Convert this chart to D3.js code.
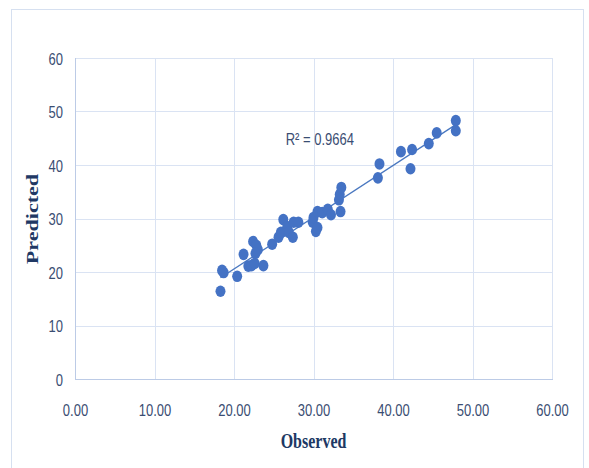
<!DOCTYPE html>
<html>
<head>
<meta charset="utf-8">
<script src="https://cdn.jsdelivr.net/npm/d3@7"></script>
<style>
  html, body { margin: 0; padding: 0; background: #fff; }
  svg { display: block; }
</style>
</head>
<body>
<svg id="chart" width="589" height="468"></svg>
<script>
const observed = [18.3, 18.7, 18.5, 20.4, 21.2, 21.8, 22.2, 22.6, 23.7, 22.4, 22.8, 23.0, 22.7,
  24.8, 25.6, 25.9, 26.2, 26.7, 26.9, 27.4, 27.5, 28.1, 29.9, 30.3, 30.5, 30.0, 30.5, 31.1,
  31.8, 32.2, 33.4, 33.2, 33.3, 33.5, 38.1, 38.3, 41.0, 42.4, 42.2, 44.5, 45.5, 47.9, 47.9];
const predicted = [16.4, 19.9, 20.3, 19.2, 23.3, 21.1, 21.2, 21.6, 21.2, 25.7, 25.0, 24.2, 23.5,
  25.2, 26.5, 27.4, 29.8, 28.5, 27.4, 26.5, 29.3, 29.3, 29.3, 27.6, 28.3, 30.2, 31.3, 31.1,
  31.7, 30.7, 31.3, 33.5, 34.5, 35.8, 37.6, 40.2, 42.5, 42.9, 39.3, 44.0, 46.0, 48.3, 46.4];
const xTicks = [0, 10, 20, 30, 40, 50, 60];
const yTicks = [0, 10, 20, 30, 40, 50, 60];
const xTitle = "Observed";
const yTitle = "Predicted";
const r2Label = "R² = 0.9664";

(function () {
const svg = d3.select("#chart");
const pL = 75, pR = 552, pT = 58, pB = 379;
const SY = 1.3; // vertical text stretch

const x = d3.scaleLinear().domain([0, 60]).range([pL, pR]);
const y = d3.scaleLinear().domain([0, 60]).range([pB, pT]);

// outer chart frame
svg.append("rect").attr("x", 11.5).attr("y", 9.5).attr("width", 572).attr("height", 470)
  .attr("fill", "#fff").attr("stroke", "#d6e0f0").attr("stroke-width", 1);

// gridlines
svg.append("g").selectAll("line").data(xTicks).join("line")
  .attr("x1", d => Math.round(x(d)) + 0.5).attr("x2", d => Math.round(x(d)) + 0.5)
  .attr("y1", pT).attr("y2", pB)
  .attr("stroke", "#dae3f3").attr("stroke-width", 1);
svg.append("g").selectAll("line").data(yTicks).join("line")
  .attr("y1", d => Math.round(y(d)) + 0.5).attr("y2", d => Math.round(y(d)) + 0.5)
  .attr("x1", pL).attr("x2", pR)
  .attr("stroke", "#dae3f3").attr("stroke-width", 1);

// axis lines
svg.append("line").attr("x1", Math.round(x(0)) + 0.5).attr("x2", Math.round(x(0)) + 0.5)
  .attr("y1", pT).attr("y2", pB + 1).attr("stroke", "#bccbe6");
svg.append("line").attr("x1", pL).attr("x2", pR + 1)
  .attr("y1", Math.round(y(0)) + 0.5).attr("y2", Math.round(y(0)) + 0.5).attr("stroke", "#bccbe6");

const tickFont = "'Liberation Sans Narrow', 'Liberation Sans', Arial, sans-serif";
const tickColor = "#3a4d72";

// x tick labels
const xAxis = d3.axisBottom(x).tickValues(xTicks).tickFormat(d3.format(".2f")).tickSize(0).tickPadding(0);
const gx = svg.append("g").attr("transform", `translate(0,${pB})`).call(xAxis);
gx.select(".domain").remove();
gx.selectAll("text").attr("y", 37 / SY).attr("dy", null)
  .attr("transform", `scale(1,${SY})`)
  .attr("font-family", tickFont).attr("font-size", 13).attr("fill", tickColor);

// y tick labels
const yAxis = d3.axisLeft(y).tickValues(yTicks).tickFormat(d3.format("d")).tickSize(0).tickPadding(0);
const gy = svg.append("g").attr("transform", `translate(${pL},0)`).call(yAxis);
gy.select(".domain").remove();
gy.selectAll("text").attr("x", -12).attr("dy", "0.36em")
  .attr("transform", `scale(1,${SY})`)
  .attr("font-family", tickFont).attr("font-size", 13).attr("fill", tickColor);

// trendline (least squares)
const n = observed.length;
const mx = d3.mean(observed), my = d3.mean(predicted);
let sxy = 0, sxx = 0;
for (let i = 0; i < n; i++) { sxy += (observed[i] - mx) * (predicted[i] - my); sxx += (observed[i] - mx) ** 2; }
const slope = sxy / sxx, intercept = my - slope * mx;
const [x0, x1] = d3.extent(observed);
svg.append("line")
  .attr("x1", x(x0)).attr("y1", y(intercept + slope * x0))
  .attr("x2", x(x1)).attr("y2", y(intercept + slope * x1))
  .attr("stroke", "#4a78c0").attr("stroke-width", 1.3);

// points
svg.append("g").selectAll("ellipse").data(observed.map((d, i) => [d, predicted[i]])).join("ellipse")
  .attr("cx", d => x(d[0])).attr("cy", d => y(d[1]))
  .attr("rx", 5).attr("ry", 5.8)
  .attr("fill", "#4472c4");

// R² label
svg.append("text")
  .attr("transform", `translate(${x(26.5)},${y(43.8)}) scale(1,${SY})`)
  .attr("font-family", tickFont).attr("font-size", 13).attr("fill", tickColor)
  .text(r2Label);

// axis titles
const titleFont = "'Liberation Serif', 'Times New Roman', serif";
svg.append("text")
  .attr("transform", `translate(${(pL + pR) / 2},448) scale(1,1.35)`)
  .attr("text-anchor", "middle")
  .attr("font-family", titleFont).attr("font-weight", "bold").attr("font-size", 16)
  .attr("fill", "#203864").text(xTitle);
svg.append("text")
  .attr("transform", `translate(38,219) rotate(-90) scale(1.38,1)`)
  .attr("text-anchor", "middle")
  .attr("font-family", titleFont).attr("font-weight", "bold").attr("font-size", 16)
  .attr("fill", "#203864").text(yTitle);
})();
</script>
</body>
</html>
